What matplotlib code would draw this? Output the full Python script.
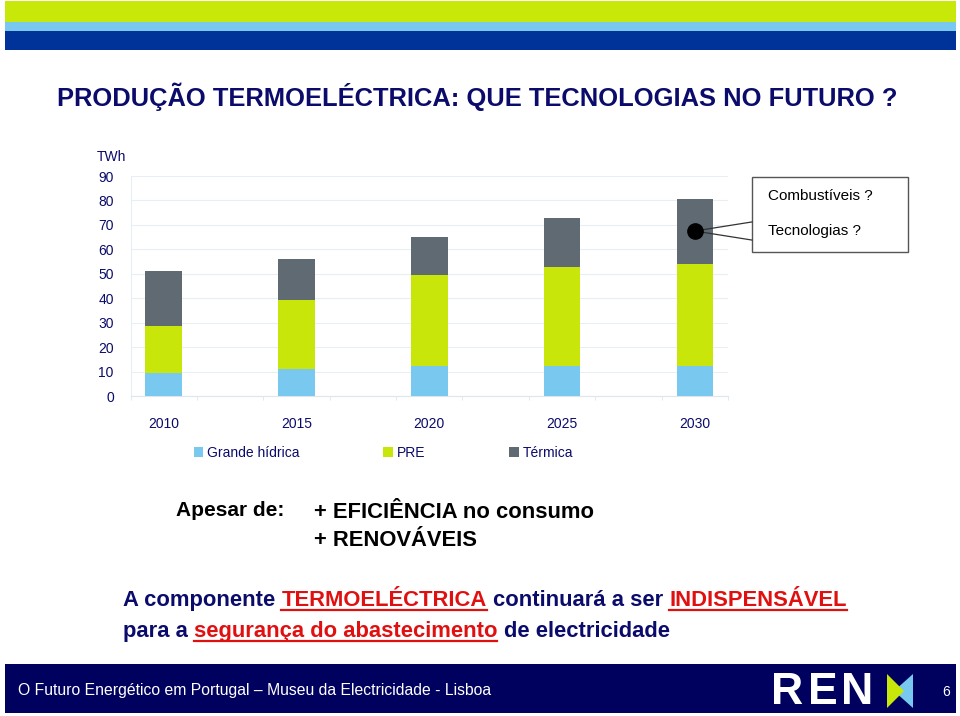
import matplotlib
matplotlib.use("Agg")
import matplotlib.pyplot as plt
from matplotlib.patches import Rectangle, Polygon
from matplotlib.lines import Line2D
import numpy as np

plt.rcParams['font.family'] = ['Liberation Sans', 'DejaVu Sans']

# dados (TWh)
anos = ["2010", "2015", "2020", "2025", "2030"]
grande_hidrica = [9.6, 11.2, 12.2, 12.4, 12.4]
pre = [19.1, 28.0, 37.4, 40.5, 41.8]
termica = [22.3, 16.9, 15.3, 20.0, 26.4]
y_ticks = [0, 10, 20, 30, 40, 50, 60, 70, 80, 90]

c_hid = "#78c8f0"
c_pre = "#c8e60a"
c_ter = "#5f6a72"
navy = "#0b0b6b"
red = "#e01010"

W, H = 960, 716
fig = plt.figure(figsize=(9.6, 7.16), dpi=100)


def fx(x):
    return x / W


def fy(y):
    return 1 - y / H


# faixas do topo
top = fig.add_axes([0, 0, 1, 1], zorder=-1)
top.set_xlim(0, W)
top.set_ylim(H, 0)
top.axis("off")
top.add_patch(Rectangle((5, 1), 951, 21, color="#c8e80a", lw=0))
top.add_patch(Rectangle((5, 22), 951, 9, color="#78c8f0", lw=0))
top.add_patch(Rectangle((5, 31), 951, 19, color="#003399", lw=0))

# rodapé
top.add_patch(Rectangle((5, 664), 951, 49, color="#00005e", lw=0))
top.add_patch(Polygon([(913, 674), (913, 708), (894, 691)], closed=True, color="#78c8f0", lw=0))
top.add_patch(Polygon([(887, 674), (887, 708), (904, 691)], closed=True, color="#c8e80a", lw=0))

fig.text(fx(57), fy(97), "PRODUÇÃO TERMOELÉCTRICA: QUE TECNOLOGIAS NO FUTURO ?",
         fontsize=18.4, fontweight="bold", color=navy, va="center", ha="left")

# gráfico
ax = fig.add_axes([fx(130.5), fy(396), fx(728) - fx(130.5), fy(176) - fy(396)])
x = np.arange(len(anos)) * 2
b1 = ax.bar(x, grande_hidrica, width=0.55, color=c_hid, label="Grande hídrica", zorder=3)
b2 = ax.bar(x, pre, width=0.55, bottom=grande_hidrica, color=c_pre, label="PRE", zorder=3)
base = np.array(grande_hidrica) + np.array(pre)
b3 = ax.bar(x, termica, width=0.55, bottom=base, color=c_ter, label="Térmica", zorder=3)

ax.set_xlim(-0.5, 8.5)
ax.set_ylim(0, 90)
ax.set_yticks(y_ticks)
ax.set_yticklabels([str(v) for v in y_ticks], fontsize=10, color=navy)
ax.set_xticks(x)
ax.set_xticklabels(anos, fontsize=10, color=navy)
ax.set_xticks(np.arange(-0.5, 9, 1), minor=True)
ax.tick_params(axis="x", which="major", length=0, pad=15)
ax.tick_params(axis="x", which="minor", length=3, color="#dde6ee")
ax.tick_params(axis="y", length=0, pad=12)
ax.grid(axis="y", color="#e8eef3", lw=0.8, zorder=0)
for s in ["top", "right"]:
    ax.spines[s].set_visible(False)
ax.spines["left"].set_color("#e8eef3")
ax.spines["bottom"].set_color("#dde6ee")
fig.text(fx(97), fy(157), "TWh", fontsize=10, color=navy, ha="left", va="center")

# balão
box_l = (752 - 130.5) / 66.4 - 0.5
ax.add_line(Line2D([8.0, box_l], [67.5, 71.2], color="#333333", lw=0.9, clip_on=False, zorder=5))
ax.add_line(Line2D([8.0, box_l], [67.5, 63.8], color="#333333", lw=0.9, clip_on=False, zorder=5))
ax.plot([8.0], [67.5], marker="o", markersize=11, color="black", zorder=6)
top.add_patch(Rectangle((752, 177), 156, 75, facecolor="white", edgecolor="#555555", lw=1))
fig.text(fx(768), fy(196), "Combustíveis ?", fontsize=11, color="black", va="center")
fig.text(fx(768), fy(231), "Tecnologias ?", fontsize=11, color="black", va="center")

fig.legend(handles=[b1, b2, b3], loc="center left", bbox_to_anchor=(fx(181), fy(453)),
           ncol=3, frameon=False, fontsize=10, handlelength=0.7, handleheight=0.7,
           handletextpad=0.3, columnspacing=6.0, labelcolor=navy)

# textos
fig.text(fx(176), fy(510), "Apesar de:", fontsize=15, fontweight="bold", color="black", va="center")
fig.text(fx(314), fy(512), "+ EFICIÊNCIA no consumo", fontsize=15.8, fontweight="bold", color="black", va="center")
fig.text(fx(314), fy(541), "+ RENOVÁVEIS", fontsize=15.8, fontweight="bold", color="black", va="center")

renderer = fig.canvas.get_renderer()


def linha(x0, y0, runs, size=15.8):
    x = fx(x0)
    a = fig.text(0, 0, "a a", fontsize=size, fontweight="bold")
    b = fig.text(0, 0, "aa", fontsize=size, fontweight="bold")
    sp = (a.get_window_extent(renderer).width - b.get_window_extent(renderer).width) / W
    a.remove()
    b.remove()
    for txt, cor, sub in runs:
        t = fig.text(x, fy(y0), txt, fontsize=size, fontweight="bold", color=cor, va="baseline")
        bb = t.get_window_extent(renderer).transformed(fig.transFigure.inverted())
        if sub:
            fig.add_artist(Line2D([bb.x0, bb.x1], [fy(y0 + 4)] * 2, color=cor, lw=1.6,
                                  transform=fig.transFigure))
        x = bb.x1 + sp


linha(123, 606, [("A componente", navy, False), ("TERMOELÉCTRICA", red, True),
                 ("continuará a ser", navy, False), ("INDISPENSÁVEL", red, True)])
linha(123, 637, [("para a", navy, False), ("segurança do abastecimento", red, True),
                 ("de electricidade", navy, False)])

fig.text(fx(18), fy(690), "O Futuro Energético em Portugal – Museu da Electricidade - Lisboa",
         fontsize=11.3, color="white", va="center")
for letra, px in zip("REN", [771, 808, 841]):
    fig.text(fx(px), fy(692), letra, fontsize=32, fontweight="bold", color="white", va="center")
fig.text(fx(942), fy(692), "6", fontsize=10, color="white", va="center")

fig.savefig("out.png", dpi=100)
